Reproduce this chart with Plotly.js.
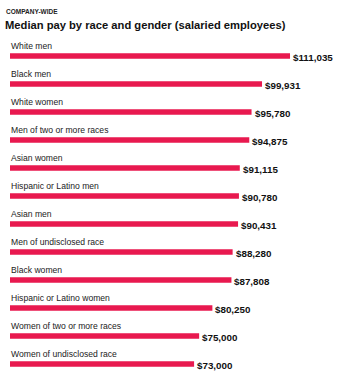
<!DOCTYPE html>
<html>
<head>
<meta charset="utf-8">
<script src="https://cdn.plot.ly/plotly-3.0.1.min.js"></script>
<style>html,body{margin:0;padding:0;background:#fff;}#chart{width:341px;height:380px;}</style>
</head>
<body>
<div id="chart"></div>
<script>
const categories = [
  "White men",
  "Black men",
  "White women",
  "Men of two or more races",
  "Asian women",
  "Hispanic or Latino men",
  "Asian men",
  "Men of undisclosed race",
  "Black women",
  "Hispanic or Latino women",
  "Women of two or more races",
  "Women of undisclosed race"
];
const values = [111035, 99931, 95780, 94875, 91115, 90780, 90431, 88280, 87808, 80250, 75000, 73000];
const kicker = "COMPANY-WIDE";
const titleText = "Median pay by race and gender (salaried employees)";

const font = "Liberation Sans, Arial, Helvetica, sans-serif";

const trace = {
  type: "bar",
  orientation: "h",
  x: values,
  y: categories,
  width: 0.2,
  marker: {color: "#E8194F"},
  cliponaxis: false,
  hoverinfo: "none"
};

const annotations = categories.map(c => ({
  xref: "x", yref: "y", x: 0, y: c,
  text: c, showarrow: false,
  xanchor: "left", yanchor: "bottom", yshift: 3, xshift: -1,
  font: {family: font, size: 8.6, color: "#222"}
}));
values.forEach((v, i) => annotations.push({
  xref: "x", yref: "y", x: v, y: categories[i],
  text: "<b>$" + v.toLocaleString("en-US") + "</b>", showarrow: false,
  xanchor: "left", yanchor: "middle", xshift: 1, yshift: -1,
  font: {family: font, size: 9.8, color: "#111"}
}));
annotations.push({
  xref: "paper", yref: "paper", x: -5/331, y: 1 + (42-11)/336,
  xanchor: "left", yanchor: "middle", showarrow: false, xshift: -1,
  text: "<b>" + kicker + "</b>",
  font: {family: font, size: 6.5, color: "#222"}
});

const layout = {
  width: 341, height: 380,
  margin: {l: 10, r: 0, t: 42, b: 2},
  paper_bgcolor: "#fff", plot_bgcolor: "#fff",
  showlegend: false,
  title: {
    text: "<b>" + titleText + "</b>",
    x: 5/341, xanchor: "left", xref: "container",
    y: 1 - 25/380, yanchor: "middle", yref: "container",
    font: {family: font, size: 11.2, color: "#111"}
  },
  xaxis: {range: [0, 131250], visible: false, fixedrange: true},
  yaxis: {autorange: false, range: [11.5, -0.5], visible: false, fixedrange: true},
  annotations: annotations
};

Plotly.newPlot("chart", [trace], layout, {displayModeBar: false, staticPlot: true});
</script>
</body>
</html>
